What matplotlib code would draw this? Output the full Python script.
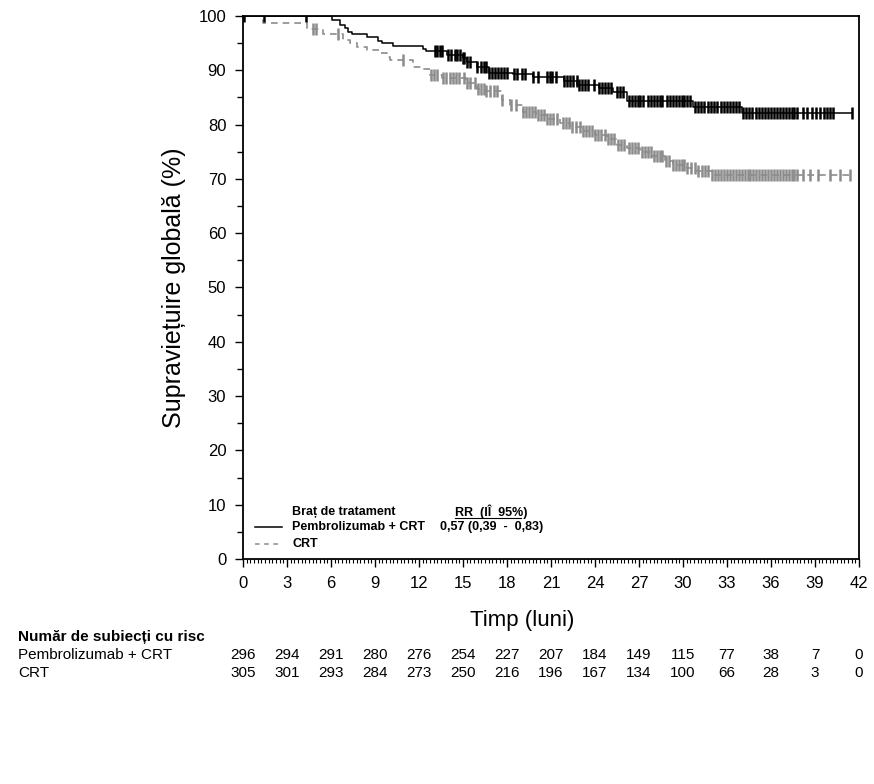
import numpy as np
import matplotlib
matplotlib.use("Agg")
import matplotlib.pyplot as plt
from matplotlib.ticker import MultipleLocator

plt.rcParams['font.family'] = ['Liberation Sans', 'DejaVu Sans']

# Kaplan-Meier step points (months, % survival)
pem_t = [0, 6.05, 6.6, 6.95, 7.15, 7.4, 8.45, 9.2, 9.5, 10.2, 12.3, 12.5, 13.9, 15.0,
         15.3, 15.95, 16.8, 18.4, 19.8, 21.9, 22.8, 24.3, 25.2, 26.2, 30.7, 34.0]
pem_s = [100, 99.3, 98.3, 97.7, 97.1, 96.7, 96.2, 95.4, 95.0, 94.5, 94.0, 93.6, 92.8, 92.2,
         91.5, 90.6, 89.5, 89.3, 88.8, 88.0, 87.3, 86.7, 86.0, 84.3, 83.2, 82.1]
pem_end = 41.5

crt_t = [0, 1.35, 4.35, 5.45, 6.8, 7.3, 7.8, 8.45, 9.35, 9.8, 10.0, 11.6, 12.3, 12.75,
         13.6, 15.2, 15.95, 16.5, 17.65, 18.2, 19.1, 20.0, 20.7, 21.6, 22.3, 23.2, 24.0,
         24.8, 25.5, 26.2, 27.1, 27.9, 28.8, 29.3, 30.3, 30.9, 32.0]
crt_s = [100, 98.7, 97.6, 96.7, 95.6, 95.0, 94.3, 93.7, 93.2, 92.5, 91.9, 90.6, 90.2, 89.1,
         88.5, 87.6, 86.6, 86.1, 84.5, 83.7, 82.3, 81.8, 81.1, 80.3, 79.6, 78.9, 78.0,
         77.3, 76.3, 75.7, 75.0, 74.2, 73.3, 72.6, 72.0, 71.4, 70.7]
crt_end = 41.5

# censoring times
pem_cens = [0.1, 1.4, 4.3,
            13.1, 13.25, 13.4, 13.55, 14.0, 14.2, 14.45, 14.6, 14.8, 15.0, 15.1, 15.3, 15.5,
            15.95, 16.2, 16.4, 16.6, 16.8, 17.0, 17.2, 17.4, 17.6, 17.8, 18.0,
            18.45, 18.7, 19.0, 19.2, 19.8, 20.1, 20.7, 20.9, 21.1, 21.35,
            21.9, 22.1, 22.3, 22.5, 22.75, 22.9, 23.1, 23.3, 23.5, 23.9,
            24.3, 24.5, 24.7, 24.9, 25.1, 25.5, 25.7, 25.9,
            26.3, 26.5, 26.7, 26.9, 27.1, 27.3, 27.6, 27.8, 28.0, 28.2, 28.4, 28.6,
            28.9, 29.1, 29.3, 29.5, 29.7, 29.9, 30.1, 30.3, 30.5,
            30.8, 31.0, 31.2, 31.4, 31.7, 31.9, 32.1, 32.3, 32.6, 32.8, 33.0, 33.2,
            33.4, 33.6, 33.8, 34.1, 34.3, 34.5, 34.7, 35.0, 35.2, 35.4, 35.6, 35.8,
            36.0, 36.2, 36.4, 36.6, 36.8, 37.0, 37.2, 37.4, 37.6, 37.8,
            38.2, 38.45, 38.8, 39.1, 39.35, 39.6, 39.8, 40.0, 40.2, 41.5]
crt_cens = [4.8, 5.0, 6.5, 10.9,
            12.8, 13.0, 13.2, 13.65, 13.85, 14.1, 14.3, 14.5, 14.7, 15.05, 15.3, 15.5,
            15.8, 16.0, 16.2, 16.4, 16.6, 16.85, 17.1, 17.3, 17.65,
            18.25, 18.6, 19.1, 19.3, 19.5, 19.7, 19.9, 20.1, 20.3, 20.5, 20.75, 20.95,
            21.15, 21.4, 21.8, 22.0, 22.2, 22.45, 22.7, 22.95, 23.2, 23.4, 23.6, 23.8,
            24.0, 24.2, 24.4, 24.65, 24.9, 25.1, 25.3, 25.55, 25.8, 26.0,
            26.3, 26.5, 26.7, 26.9, 27.2, 27.4, 27.6, 27.8, 28.0, 28.2, 28.4, 28.6,
            28.85, 29.05, 29.3, 29.5, 29.7, 29.9, 30.1, 30.3, 30.55, 30.85, 31.05,
            31.3, 31.5, 31.7, 32.0, 32.2, 32.4, 32.6, 32.8, 33.0, 33.2, 33.4, 33.6,
            33.8, 34.0, 34.2, 34.4, 34.6, 34.8, 35.0, 35.2, 35.4, 35.6, 35.8, 36.0,
            36.2, 36.4, 36.6, 36.8, 37.0, 37.2, 37.4, 37.6, 37.8,
            38.2, 38.65, 39.2, 40.0, 40.7, 41.4]

# numbers at risk
risk_times = [0, 3, 6, 9, 12, 15, 18, 21, 24, 27, 30, 33, 36, 39, 42]
pem_risk = [296, 294, 291, 280, 276, 254, 227, 207, 184, 149, 115, 77, 38, 7, 0]
crt_risk = [305, 301, 293, 284, 273, 250, 216, 196, 167, 134, 100, 66, 28, 3, 0]

black = "#000000"
grey = "#8c8c8c"


def surv_at(tt, ss, x):
    idx = np.searchsorted(tt, x, side="right") - 1
    return np.array(ss)[idx]


fig = plt.figure(figsize=(8.74, 7.84), dpi=100)
ax = fig.add_axes([0.278, 0.287, 0.7048, 0.6926])

ax.step(crt_t + [crt_end], crt_s + [crt_s[-1]], where="post", color=grey,
        lw=1.2, linestyle=(0, (4, 3)))
ax.plot(crt_cens, surv_at(crt_t, crt_s, crt_cens), linestyle="none", marker="|",
        color=grey, markersize=9, markeredgewidth=1.8)
ax.step(pem_t + [pem_end], pem_s + [pem_s[-1]], where="post", color=black, lw=1.1)
ax.plot(pem_cens, surv_at(pem_t, pem_s, pem_cens), linestyle="none", marker="|",
        color=black, markersize=9, markeredgewidth=1.8)

ax.set_xlim(0, 42)
ax.set_ylim(0, 100)
ax.xaxis.set_major_locator(MultipleLocator(3))
ax.xaxis.set_minor_locator(MultipleLocator(0.25))
ax.yaxis.set_major_locator(MultipleLocator(10))
ax.yaxis.set_minor_locator(MultipleLocator(5))
ax.tick_params(axis="both", which="major", direction="out", length=6, width=1,
               labelsize=12, pad=6)
ax.tick_params(axis="x", which="minor", direction="out", length=3, width=0.8)
ax.tick_params(axis="y", which="minor", direction="out", length=4, width=1)
for sp in ax.spines.values():
    sp.set_linewidth(1.3)

ax.set_ylabel("Supraviețuire globală (%)", fontsize=18, labelpad=9)
fig.text(0.598, 0.209, "Timp (luni)", fontsize=16, ha="center", va="center")

# legend block inside the axes
narrow = ["Liberation Sans Narrow", "Liberation Sans", "DejaVu Sans"]
ax.text(0.080, 0.087, "Braț de tratament", transform=ax.transAxes, fontsize=9,
        fontweight="bold", family=narrow, va="center")
ax.text(0.345, 0.087, "RR  (IÎ  95%)", transform=ax.transAxes, fontsize=9,
        fontweight="bold", family=narrow, va="center")
ax.plot([0.345, 0.452], [0.076, 0.076], transform=ax.transAxes, color=black, lw=0.8)
ax.plot([0.019, 0.064], [0.059, 0.059], transform=ax.transAxes, color=black, lw=1.1)
ax.text(0.080, 0.059, "Pembrolizumab + CRT", transform=ax.transAxes, fontsize=9,
        fontweight="bold", family=narrow, va="center")
ax.text(0.320, 0.059, "0,57 (0,39  -  0,83)", transform=ax.transAxes, fontsize=9,
        fontweight="bold", family=narrow, va="center")
ax.plot([0.019, 0.064], [0.028, 0.028], transform=ax.transAxes, color=grey, lw=1.1,
        linestyle=(0, (3, 3)))
ax.text(0.080, 0.028, "CRT", transform=ax.transAxes, fontsize=9,
        fontweight="bold", family=narrow, va="center")

# risk table
fig.text(0.021, 0.188, "Număr de subiecți cu risc", fontsize=11, fontweight="bold",
         va="center")
fig.text(0.021, 0.165, "Pembrolizumab + CRT", fontsize=11, va="center")
fig.text(0.021, 0.142, "CRT", fontsize=11, va="center")
for t, a, b in zip(risk_times, pem_risk, crt_risk):
    xf = ax.transData.transform((t, 0))[0] / fig.bbox.width
    fig.text(xf, 0.165, str(a), fontsize=11, ha="center", va="center")
    fig.text(xf, 0.142, str(b), fontsize=11, ha="center", va="center")

fig.savefig("out.png", dpi=100)
